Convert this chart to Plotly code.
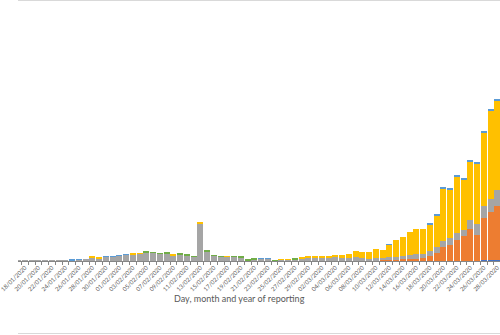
import pandas as pd
import plotly.graph_objects as go

# Reporting days shown on the category axis
dates = pd.date_range("2020-01-17", "2020-03-28", freq="D")

# Daily reported cases by continent
africa = [0] * 15 + [0] * 29 + [0] * 25 + [250, 300, 350]

america = [0] * 15 + [0] * 29 + [0] * 10 + [
    270, 540, 540, 650, 650, 920, 1150, 1920, 2950, 5250,
    6010, 7930, 9460, 12410, 9840, 16370, 18470, 20600]

asia = [4, 17, 136, 20, 151, 140, 97, 180, 300, 450, 500, 1350, 960, 1600, 1600] + [
    1980, 2380, 2520, 2760, 3380, 3160, 2760, 3030, 2140, 2500, 2120, 1600, 14530,
    3780, 1920, 1600, 1600, 1600, 1420, 220, 670, 800, 800, 150, 480, 480, 680, 980, 1450] + [
    1300, 1450, 1200, 1450, 1300, 1200, 1450, 1200, 900, 1050,
    880, 1000, 1000, 1420, 1530, 1920, 1690, 1800, 2300, 2300,
    2800, 2800, 2570, 3180, 4480, 4330, 5130, 6400]

europe = [0, 0, 0, 0, 0, 0, 0, 0, 0, 0, 0, 250, 250, 0, 0] + [
    0, 0, 250, 250, 0, 0, 0, 0, 250, 0, 0, 0, 250, 0, 0, 0, 220, 0, 0, 0,
    0, 0, 0, 0, 180, 180, 0, 200, 250] + [
    380, 380, 380, 770, 880, 1530, 2410, 2180, 2680, 3450,
    2950, 4860, 6400, 7010, 8920, 9310, 9310, 10340, 12370, 20300,
    18540, 21720, 19380, 22480, 23100, 28350, 33710, 34090]

oceania = [0, 0, 0, 0, 0, 0, 0, 0, 100, 200, 0, 0, 0, 250, 250] + [
    250, 250] + [0] * 19 + [230, 230] + [0] * 6 + [
    0] * 11 + [110, 0, 0, 0, 0, 0, 150, 200, 300, 300, 300, 300, 300, 300, 300, 300, 300]

other = [0] * 15 + [
    0, 0, 0, 0, 250, 250, 250, 250, 0, 250, 250, 220, 0, 250, 220, 220, 0, 220, 220,
    200, 220, 0, 0, 150, 0, 0, 200, 0, 0] + [0] * 28

series = [
    ("Africa", africa, "#4472C4"),
    ("America", america, "#ED7D31"),
    ("Asia", asia, "#A5A5A5"),
    ("Europe", europe, "#FFC000"),
    ("Oceania", oceania, "#5B9BD5"),
    ("Other", other, "#70AD47"),
]

fig = go.Figure()
for name, vals, col in series:
    fig.add_trace(go.Bar(
        x=dates, y=vals, name=name,
        marker=dict(color=col, line=dict(width=0)),
    ))

W, H = 500, 335
plot_h = 261

fig.update_layout(
    width=W, height=H,
    margin=dict(l=0, r=0, t=0, b=H - plot_h, pad=0),
    barmode="stack", bargap=0.1,
    paper_bgcolor="white", plot_bgcolor="white",
    showlegend=False,
    font=dict(family="Lato, Open Sans, sans-serif", color="#595959"),
)

fig.update_xaxes(
    type="date",
    range=["2020-01-16 23:17", "2020-03-28 09:36"],
    tick0="2020-01-18", dtick=2 * 86400000,
    tickformat="%d/%m/%Y", tickangle=-45,
    tickfont=dict(size=6, color="#595959"),
    ticklabeloverflow="allow",
    ticks="",
    minor=dict(ticks="outside", ticklen=3, tickcolor="#868686",
               tick0="2020-01-16 12:00", dtick=86400000),
    showline=True, linecolor="#868686", linewidth=1,
    showgrid=False, zeroline=False,
)
fig.update_yaxes(range=[0, 100000], visible=False, showgrid=False)

# Axis title
fig.add_annotation(
    text="Day, month and year of reporting",
    xref="paper", yref="paper",
    x=229.5 / W, y=(plot_h - 298) / plot_h,
    xanchor="center", yanchor="middle", showarrow=False,
    font=dict(size=9, color="#595959", family="Lato, Open Sans, sans-serif"),
)

# Chart frame edges
for py in (0.5, 333.5):
    fig.add_shape(type="line", xref="paper", yref="paper",
                  x0=0, x1=1, y0=(plot_h - py) / plot_h, y1=(plot_h - py) / plot_h,
                  line=dict(color="#D9D9D9", width=1))

fig.write_html("out.html")
